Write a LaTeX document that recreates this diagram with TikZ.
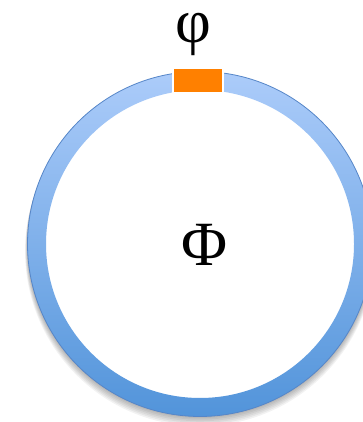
\documentclass[tikz,border=0pt]{standalone}
\usepackage{fontspec}
\setmainfont{Liberation Serif}
\usepackage{tikz}

\definecolor{ringtop}{RGB}{172,204,250}
\definecolor{ringbot}{RGB}{82,148,218}
\definecolor{ringedge}{RGB}{86,134,200}
\definecolor{gateorange}{RGB}{255,128,0}

\begin{document}
\begin{tikzpicture}[x=1pt,y=1pt]
	% параметры
	\def\Ro{172.5} % внешний радиус кольца
	\def\Ri{154}   % внутренний радиус кольца
	\coordinate (c) at (200,178);

	\useasboundingbox (0,0) rectangle (363,422);
	\fill[white] (0,0) rectangle (363,422);

	\begin{scope}
		\clip (0,0) rectangle (363,422);

		% тень под кольцом
		\foreach \k in {1,...,6}
			\fill[black, opacity=0.05, even odd rule]
				([yshift=-1.2*\k pt]c) circle ({\Ro+0.4*\k}) (c) circle (\Ro-2);

		% кольцо с градиентом
		\shade[top color=ringtop, bottom color=ringbot, even odd rule]
			(c) circle (\Ro) (c) circle (\Ri);
		\draw[ringedge, line width=0.8pt] (c) circle (\Ro);

		% затвор
		\filldraw[fill=gateorange, draw=white, line width=1.5pt]
			(173,329) rectangle (223,354);
	\end{scope}

	% подписи
	\node[font=\fontsize{62}{62}\selectfont, inner sep=0pt] (phi) at (193,388) {φ};
	\node[font=\fontsize{63}{63}\selectfont, inner sep=0pt] (Phi) at (205,177) {Φ};
\end{tikzpicture}
\end{document}
